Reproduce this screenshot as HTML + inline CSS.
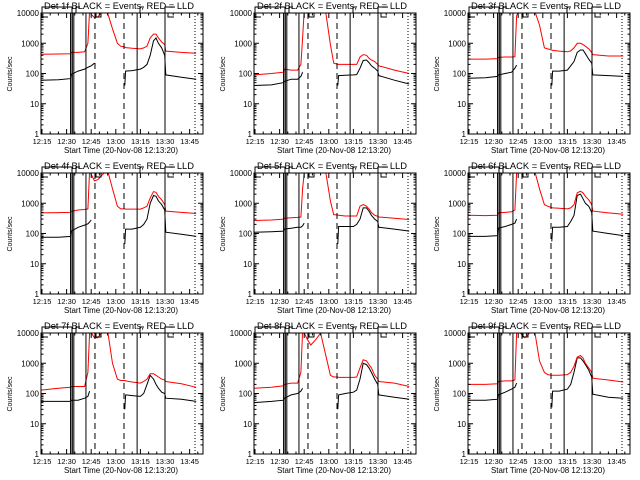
<!DOCTYPE html>
<html><head><meta charset="utf-8"><style>
html,body{margin:0;padding:0;background:#fff;}
svg{display:block;font-family:"Liberation Sans",sans-serif;}
</style></head><body>
<svg id="chart" width="640" height="480" viewBox="0 0 640 480" xmlns="http://www.w3.org/2000/svg">
<rect x="0" y="0" width="640" height="480" fill="#fff"/>
</svg>
<script>
// minutes since 12:15
const times = [-0.6,10,17.5,18,22,26,28,29,30,32,34,37,40,43,46,48,50.5,51,55,60,62,64,66,68,69.5,71,73,74.8,75.5,85,94];
const detectorNames = ["1f","2f","3f","4f","5f","6f","7f","8f","9f"];
const xTickLabels = ["12:15","12:30","12:45","13:00","13:15","13:30","13:45"];
const yTickLabels = ["1","10","100","1000","10000"];
const N = null;
const black1 = [60,62,68,95,120,140,160,170,180,220,N,N,N,N,N,N,40,120,125,140,160,200,400,1200,1500,1000,700,400,90,75,65];
const red1 = [430,440,450,500,500,520,1000,12000,9000,7000,7500,11000,10000,3000,1000,800,750,720,680,650,700,800,1500,2000,2000,1500,1100,900,550,500,470];
const black2 = [40,42,50,55,65,65,80,110,N,N,N,N,N,N,N,N,40,85,88,90,92,150,270,280,230,180,150,120,85,60,45];
const red2 = [90,100,110,140,130,130,200,1500,12000,15000,20000,20000,20000,12000,900,220,200,200,200,200,200,350,420,400,320,280,250,200,180,130,100];
const black3 = [70,72,80,90,100,110,150,190,N,N,N,N,N,N,N,N,40,120,120,130,180,250,500,600,600,450,300,220,90,85,80];
const red3 = [300,300,310,340,350,350,360,8000,11000,12000,12000,12000,12000,4000,700,650,600,580,550,520,560,700,1000,1000,900,800,650,500,420,380,380];
const black4 = [75,75,80,120,160,190,210,240,280,N,N,N,N,N,N,N,45,140,140,160,200,300,1000,1800,1700,1200,900,600,110,95,80];
const red4 = [480,490,500,540,600,620,650,12000,9000,5500,6000,9000,12000,3000,800,650,650,640,640,640,700,800,1500,2400,2300,1700,1300,900,550,500,460];
const black5 = [110,115,120,140,150,160,160,180,220,N,N,N,N,N,N,N,45,170,170,170,200,300,700,700,550,400,300,250,160,140,120];
const red5 = [270,280,300,320,330,340,350,3000,10000,12000,12000,12000,12000,12000,1200,420,410,400,380,380,380,800,900,800,650,500,400,370,350,320,290];
const black6 = [80,80,85,150,170,200,220,300,N,N,N,N,N,N,N,N,55,160,160,170,250,400,1800,2000,1400,1000,800,500,120,100,85];
const red6 = [400,390,400,480,500,520,600,10000,12000,11000,11000,12000,12000,3000,900,800,720,700,680,650,700,900,2200,2500,2200,1700,1300,900,550,480,430];
const black7 = [55,55,55,60,60,70,80,120,N,N,N,N,N,N,N,N,30,90,85,80,100,200,400,300,200,150,110,100,70,65,55];
const red7 = [130,150,160,170,170,170,500,10000,10000,7000,7000,11000,12000,1000,300,270,270,260,240,220,250,300,450,450,400,350,300,280,250,210,160];
const black8 = [50,55,60,70,90,100,120,150,N,N,N,N,N,N,N,N,30,90,100,110,130,300,1000,900,700,500,300,200,90,75,65];
const red8 = [150,160,180,200,220,220,500,12000,10000,6000,4000,6000,10000,2000,400,350,350,340,340,340,350,700,1300,1200,900,700,400,300,250,220,170];
const black9 = [60,60,65,90,110,140,160,220,N,N,N,N,N,N,N,N,35,120,120,140,200,500,1500,1500,1200,900,600,350,95,75,70];
const red9 = [200,200,210,250,260,260,280,10000,12000,9000,7000,10000,12000,1200,500,420,400,400,400,420,500,800,1600,1800,1500,1000,700,500,320,280,240];
const blacks = [black1,black2,black3,black4,black5,black6,black7,black8,black9];
const reds = [red1,red2,red3,red4,red5,red6,red7,red8,red9];

const NS = "http://www.w3.org/2000/svg";
const svg = document.getElementById('chart');
function mk(tag, attrs, parent){
  const e = document.createElementNS(NS, tag);
  for (const k in attrs) e.setAttribute(k, attrs[k]);
  (parent||svg).appendChild(e);
  return e;
}
const PL=41, PR=203, PT=13, PB=134;
function xs(t){ return 42 + t*1.64; }
function ys(v){ return PB - Math.log10(v)*30.25; }
const colX=[0,213,427], rowY=[0,160,320];

for (let p=0;p<9;p++){
  const ox=colX[p%3], oy=rowY[Math.floor(p/3)];
  const g = mk('g',{transform:`translate(${ox},${oy})`});
  
  
  const cid='clip'+p;
  const cp = mk('clipPath',{id:cid},g);
  mk('rect',{x:PL,y:PT,width:PR-PL,height:PB-PT},cp);

  [[blacks[p],'#000','black-events-line'],[reds[p],'#f00','red-lld-line']].forEach(([arr,col,nm])=>{
    let d='', pen=false;
    for (let i=0;i<times.length;i++){
      const v=arr[i];
      if (v===null){ pen=false; continue; }
      d += (pen?'L':'M') + xs(times[i]).toFixed(1) + ' ' + ys(v).toFixed(1) + ' ';
      pen=true;
    }
    const path = mk('path',{d:d,fill:'none',stroke:col,'stroke-width':1,'clip-path':`url(#${cid})`},g);
    
    
  });

  const vls=[[17.5,'solid',1.3],[18.5,'solid',1],[19.4,'solid',1],[26.8,'solid',1],[32.3,'dash',1],[50,'dash',1],[58,'solid',1],[75,'solid',1],[93.3,'dot',1]];
  vls.forEach(([t,st,w])=>{
    const a={x1:xs(t),x2:xs(t),y1:PT,y2:PB,stroke:'#000','stroke-width':w};
    if (st==='dash') a['stroke-dasharray']='6,4';
    if (st==='dot') a['stroke-dasharray']='1,2';
    const l = mk('line',a,g);
    
    
  });
  mk('path',{d:`M42 13V7H72 M72 7V13 M76 13V7H80 M140 13V7H144 M165 13V7H170 M168 7H175 M42 14V17H48 M96 13V17H101V13 M168 13V17H174`,fill:'none',stroke:'#000','stroke-width':1},g);

  const box = mk('rect',{x:PL,y:PT,width:PR-PL,height:PB-PT,fill:'none',stroke:'#000','stroke-width':1},g);
  
  

  for (let dec=0;dec<5;dec++){
    const y=ys(Math.pow(10,dec));
    mk('line',{x1:PL,x2:PL+5,y1:y,y2:y,stroke:'#000'},g);
    mk('line',{x1:PR,x2:PR-5,y1:y,y2:y,stroke:'#000'},g);
    const tx = mk('text',{x:39,y:y+3,'font-size':8,'text-anchor':'end',fill:'#000'},g);
    tx.textContent = yTickLabels[dec];
    
    
    if (dec<4) for (let m=2;m<10;m++){
      const ym=ys(m*Math.pow(10,dec));
      mk('line',{x1:PL,x2:PL+2.5,y1:ym,y2:ym,stroke:'#000'},g);
      mk('line',{x1:PR,x2:PR-2.5,y1:ym,y2:ym,stroke:'#000'},g);
    }
  }
  for (let t=0;t<=95;t+=5){
    const x=xs(t), major=(t%15===0);
    const L=major?5:2.5;
    mk('line',{x1:x,x2:x,y1:PB,y2:PB-L,stroke:'#000'},g);
    mk('line',{x1:x,x2:x,y1:PT,y2:PT+L,stroke:'#000'},g);
    if (major){
      const tx=mk('text',{x:x,y:144,'font-size':7.5,'text-anchor':'middle',fill:'#000'},g);
      tx.textContent=xTickLabels[t/15];
      
      
    }
  }
  const xt=mk('text',{x:121,y:153,'font-size':8,'text-anchor':'middle',fill:'#000',textLength:114,lengthAdjust:'spacingAndGlyphs'},g);
  xt.textContent='Start Time (20-Nov-08 12:13:20)';
  
  
  const yt=mk('text',{x:0,y:0,'font-size':7,'text-anchor':'middle',fill:'#000',transform:'translate(12,74) rotate(-90)'},g);
  yt.textContent='Counts/sec';
  
  
  const tt=mk('text',{x:119,y:9,'font-size':9,'text-anchor':'middle',fill:'#000',textLength:150,lengthAdjust:'spacingAndGlyphs'},g);
  tt.textContent='Det '+detectorNames[p]+' BLACK = Events, RED = LLD';
  
  
}
</script>
</body></html>
